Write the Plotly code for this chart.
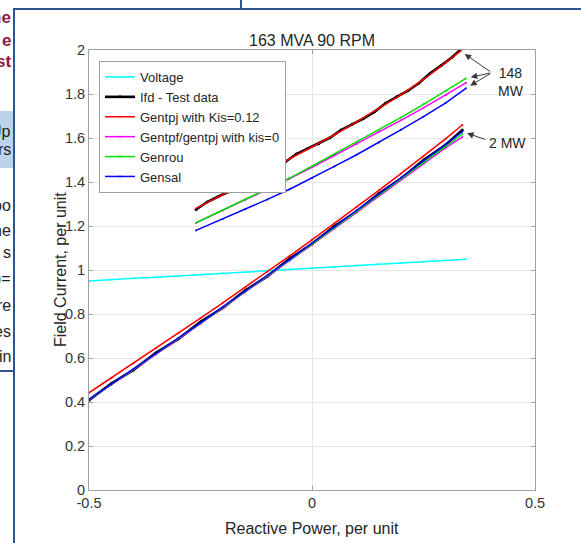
import plotly.graph_objects as go

# ---------------- data ----------------
# Voltage (cyan)
q_volt = [-0.5, -0.45, -0.4, -0.35, -0.3, -0.25, -0.2, -0.15, -0.1, -0.05,
          0.0, 0.05, 0.1, 0.15, 0.2, 0.25, 0.3, 0.345]
volt = [0.950, 0.957, 0.962, 0.967, 0.973, 0.979, 0.985, 0.990, 0.996, 1.002,
        1.008, 1.014, 1.020, 1.026, 1.032, 1.037, 1.043, 1.049]

# 148 MW group
q148_test = [-0.26, -0.235, -0.21, -0.185, -0.16, -0.135, -0.11, -0.085, -0.06,
             -0.035, -0.01, 0.015, 0.04, 0.065, 0.09, 0.115, 0.14, 0.165, 0.19,
             0.215, 0.24, 0.265, 0.29, 0.315, 0.333]
test148 = [1.275, 1.309, 1.334, 1.356, 1.381, 1.416, 1.442, 1.466, 1.491, 1.527,
           1.551, 1.574, 1.601, 1.636, 1.662, 1.688, 1.719, 1.758, 1.787, 1.815,
           1.850, 1.894, 1.930, 1.968, 2.002]

q148_red = [-0.26, -0.2, -0.15, -0.1, -0.05, 0.0, 0.05, 0.1, 0.15, 0.2, 0.25, 0.3, 0.333]
gentpj148 = [1.280, 1.342, 1.396, 1.451, 1.506, 1.558, 1.614, 1.673, 1.734, 1.797,
             1.866, 1.942, 1.995]

q148 = [-0.26, -0.2, -0.15, -0.1, -0.05, 0.0, 0.05, 0.1, 0.15, 0.2, 0.25, 0.3, 0.345]
gentpf148 = [1.214, 1.271, 1.318, 1.366, 1.415, 1.467, 1.520, 1.573, 1.627, 1.681,
             1.737, 1.795, 1.851]
genrou148 = [1.215, 1.272, 1.320, 1.368, 1.418, 1.472, 1.527, 1.582, 1.638, 1.694,
             1.753, 1.814, 1.871]
gensal148 = [1.180, 1.232, 1.276, 1.321, 1.367, 1.418, 1.471, 1.524, 1.580, 1.638,
             1.697, 1.760, 1.826]

# 2 MW group
q2 = [-0.5, -0.45, -0.4, -0.35, -0.3, -0.25, -0.2, -0.15, -0.1, -0.05,
      0.0, 0.05, 0.1, 0.15, 0.2, 0.25, 0.3, 0.337]
test2 = [0.408, 0.484, 0.546, 0.623, 0.686, 0.764, 0.828, 0.907, 0.971, 1.052,
         1.118, 1.199, 1.266, 1.348, 1.416, 1.500, 1.569, 1.636]
gentpj2 = [0.442, 0.509, 0.576, 0.644, 0.712, 0.781, 0.851, 0.921, 0.992, 1.064,
           1.137, 1.211, 1.286, 1.362, 1.439, 1.517, 1.597, 1.659]
gentpf2 = [0.410, 0.478, 0.547, 0.616, 0.686, 0.756, 0.827, 0.898, 0.970, 1.042,
           1.115, 1.188, 1.261, 1.335, 1.410, 1.483, 1.556, 1.604]
genrou2 = [0.411, 0.480, 0.549, 0.618, 0.688, 0.759, 0.830, 0.901, 0.973, 1.045,
           1.118, 1.191, 1.265, 1.339, 1.413, 1.488, 1.563, 1.617]
gensal2 = [0.412, 0.481, 0.550, 0.619, 0.690, 0.760, 0.832, 0.903, 0.976, 1.048,
           1.122, 1.195, 1.270, 1.345, 1.420, 1.496, 1.572, 1.629]

x_ticks = [-0.5, 0, 0.5]
x_ticktext = ["-0.5", "0", "0.5"]
y_ticks = [0, 0.2, 0.4, 0.6, 0.8, 1.0, 1.2, 1.4, 1.6, 1.8, 2.0]
y_ticktext = ["0", "0.2", "0.4", "0.6", "0.8", "1", "1.2", "1.4", "1.6", "1.8", "2"]

series = [
    ("Voltage", "#00FFFF", [(q_volt, volt)]),
    ("Ifd - Test data", "#000000", [(q148_test, test148), (q2, test2)]),
    ("Gentpj with Kis=0.12", "#FF0000", [(q148_red, gentpj148), (q2, gentpj2)]),
    ("Gentpf/gentpj with kis=0", "#FF00FF", [(q148, gentpf148), (q2, gentpf2)]),
    ("Genrou", "#00E000", [(q148, genrou148), (q2, genrou2)]),
    ("Gensal", "#0000FF", [(q148, gensal148), (q2, gensal2)]),
]

FONT = "Liberation Sans, Arial, sans-serif"

fig = go.Figure()
for name, color, parts in series:
    for i, (xs, ys) in enumerate(parts):
        is_test = name.startswith("Ifd")
        fig.add_trace(go.Scatter(
            x=xs, y=ys, name=name, legendgroup=name, showlegend=(i == 0),
            mode="lines+markers",
            line=dict(color=color, width=2.6 if is_test else 1.5),
            marker=dict(color=color, size=3 if is_test else 2),
        ))

# ---------------- layout ----------------
PX_L, PX_R, PX_T, PX_B = 89, 535, 50, 490
W, H = 581, 543


def xp(px):
    return (px - PX_L) / (PX_R - PX_L)


def yp(py):
    return (PX_B - py) / (PX_B - PX_T)


axis_common = dict(
    showgrid=True, gridcolor="#E6E6E6", gridwidth=1, zeroline=False,
    showline=True, linecolor="#A0A0A0", linewidth=1, mirror="ticks",
    ticks="inside", ticklen=4, tickcolor="#A0A0A0",
    tickfont=dict(family=FONT, size=14.5, color="#333333"),
)

fig.update_layout(
    width=W, height=H, autosize=False,
    margin=dict(l=PX_L, r=W - PX_R, t=PX_T, b=H - PX_B, pad=0),
    paper_bgcolor="white", plot_bgcolor="white",
    font=dict(family=FONT, color="#262626"),
    title=dict(text="163 MVA 90 RPM", x=0.5, xref="paper", xanchor="center",
               y=1 - 40 / H, yanchor="middle",
               font=dict(family=FONT, size=16, color="#262626")),
    xaxis=dict(range=[-0.5, 0.5], tickvals=x_ticks, ticktext=x_ticktext, **axis_common),
    yaxis=dict(range=[0, 2], tickvals=y_ticks, ticktext=y_ticktext, **axis_common),
    legend=dict(x=xp(99), y=yp(61), xanchor="left", yanchor="top",
                bgcolor="white", bordercolor="#A0A0A0", borderwidth=1,
                font=dict(family=FONT, size=13, color="#262626"),
                tracegroupgap=0, itemwidth=30),
    showlegend=True,
)

annotations = [
    dict(text="Reactive Power, per unit", xref="paper", yref="paper",
         x=0.5, y=yp(528), xanchor="center", yanchor="middle", showarrow=False,
         font=dict(family=FONT, size=16, color="#262626")),
    dict(text="Field Current, per unit", xref="paper", yref="paper",
         x=xp(60), y=0.5, xanchor="center", yanchor="middle", textangle=-90,
         showarrow=False, font=dict(family=FONT, size=16, color="#262626")),
    dict(text="148<br>MW", xref="x", yref="y", x=0.446, y=1.855,
         showarrow=False, align="center",
         font=dict(family=FONT, size=14, color="#262626")),
    dict(text="2 MW", xref="x", yref="y", x=0.439, y=1.577,
         showarrow=False, font=dict(family=FONT, size=14, color="#262626")),
]
arrow_style = dict(showarrow=True, arrowhead=2, arrowsize=1.3, arrowwidth=1,
                   arrowcolor="#3A3A3A", text="", font=dict(size=1),
                   xref="x", yref="y", axref="x", ayref="y")
for hx, hy, tx, ty in [
    (q148_red[-1], gentpj148[-1], 0.403, 1.897),
    (q148[-1], genrou148[-1], 0.403, 1.897),
    (q148[-1], gensal148[-1], 0.403, 1.897),
    (q2[-1], gensal2[-1], 0.392, 1.591),
]:
    annotations.append(dict(x=hx, y=hy, ax=tx, ay=ty, standoff=5, **arrow_style))

# slide fragments outside the figure window
red_frag = [("he", 18), ("e", 40), ("st", 62)]
blk_frag = [("Up", 131), ("ors", 149), ("oo", 205), ("he", 230), ("s", 253),
            (")=", 278), ("re", 305), ("es", 331), ("in", 356)]
for t, py in red_frag:
    annotations.append(dict(text="<b>" + t + "</b>", xref="paper", yref="paper",
                            x=xp(13), y=yp(py), xanchor="right", yanchor="middle",
                            showarrow=False,
                            font=dict(family=FONT, size=17, color="#8B1A3C")))
for t, py in blk_frag:
    annotations.append(dict(text=t, xref="paper", yref="paper",
                            x=xp(13), y=yp(py), xanchor="right", yanchor="middle",
                            showarrow=False,
                            font=dict(family=FONT, size=16, color="#222222")))

fig.update_layout(annotations=annotations)

FRAME = "#2E5590"
shapes = [
    dict(type="rect", xref="paper", yref="paper", x0=xp(-2), x1=xp(13),
         y0=yp(111), y1=yp(168), fillcolor="#BCD3EA", line=dict(width=0), layer="below"),
    dict(type="line", xref="paper", yref="paper", x0=xp(14), x1=xp(14),
         y0=yp(9), y1=yp(550), line=dict(color=FRAME, width=2)),
    dict(type="line", xref="paper", yref="paper", x0=xp(13), x1=xp(590),
         y0=yp(9), y1=yp(9), line=dict(color=FRAME, width=2)),
    dict(type="line", xref="paper", yref="paper", x0=xp(241), x1=xp(241),
         y0=yp(-2), y1=yp(9), line=dict(color=FRAME, width=2)),
    dict(type="line", xref="paper", yref="paper", x0=xp(-2), x1=xp(14),
         y0=yp(371), y1=yp(371), line=dict(color=FRAME, width=2)),
]
fig.update_layout(shapes=shapes)

# remove the browser's default page margin so the figure sits at the window origin
fig.write_html("out.html", config={"displayModeBar": False},
               post_script="document.body.style.margin='0px';document.body.style.overflow='hidden';")
